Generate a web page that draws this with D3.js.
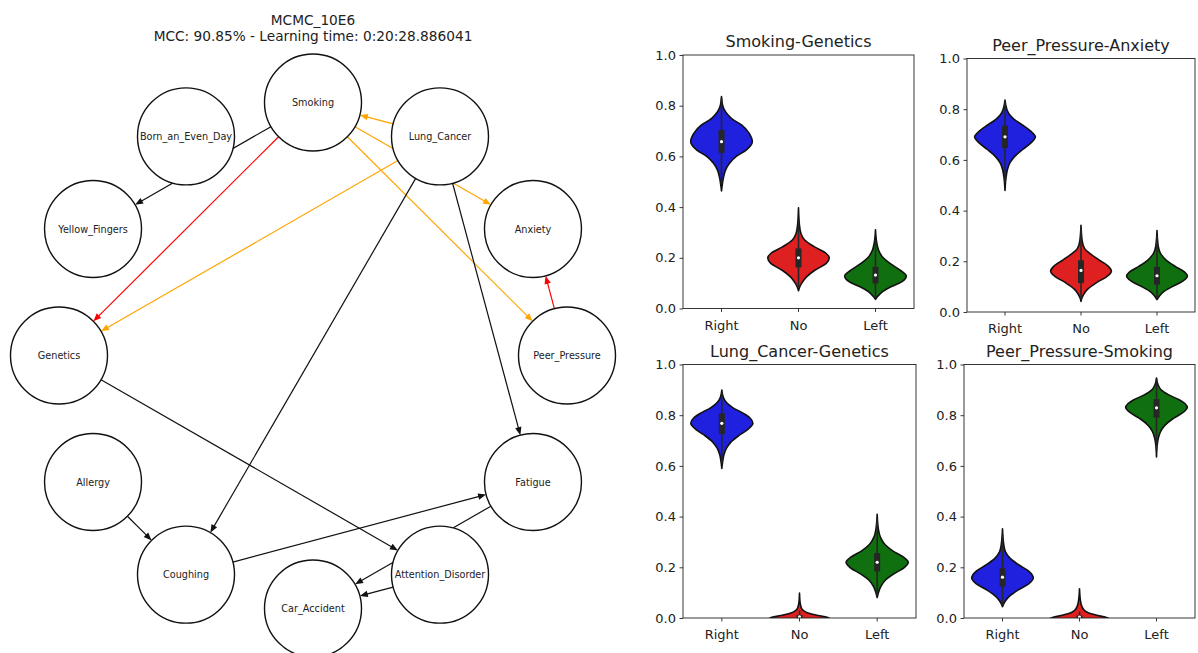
<!DOCTYPE html>
<html lang="en">
<head>
<meta charset="UTF-8">
<title>MCMC_10E6</title>
<style>
  body { margin: 0; background: #fff; }
  svg { display: block; font-family: "DejaVu Sans", sans-serif; }
  .node circle { fill: #fff; stroke: #111; stroke-width: 1.4px; }
  .node text { font-size: 9.7px; fill: #222; text-anchor: middle; dominant-baseline: central; }
  .edge { fill: none; stroke-width: 1.2px; }
  .axis path, .axis line { stroke: #222; stroke-width: 0.9px; }
  .axis text { font-size: 13px; fill: #222; font-family: "DejaVu Sans", sans-serif; }
  .frame { fill: none; stroke: #222; stroke-width: 0.9px; }
  .ptitle { font-size: 16px; fill: #222; text-anchor: middle; }
  .gtitle { font-size: 13.7px; fill: #222; text-anchor: middle; }
</style>
</head>
<body>
<svg id="chart" width="1198" height="653"></svg>
<script src="https://cdnjs.cloudflare.com/ajax/libs/d3/7.8.5/d3.min.js"></script>
<script>
// ---- graph data ----
// nodes in circular-layout order (counter-clockwise, starting at 3 o'clock)
const nodeNames = ["Peer_Pressure", "Anxiety", "Lung_Cancer", "Smoking", "Born_an_Even_Day",
  "Yellow_Fingers", "Genetics", "Allergy", "Coughing", "Car_Accident", "Attention_Disorder", "Fatigue"];

// [source, target, colour]
const edges = [
  ["Smoking", "Yellow_Fingers", "black"],
  ["Smoking", "Genetics", "red"],
  ["Lung_Cancer", "Smoking", "orange"],
  ["Smoking", "Anxiety", "orange"],
  ["Smoking", "Peer_Pressure", "orange"],
  ["Lung_Cancer", "Genetics", "orange"],
  ["Peer_Pressure", "Anxiety", "red"],
  ["Lung_Cancer", "Coughing", "black"],
  ["Lung_Cancer", "Fatigue", "black"],
  ["Genetics", "Attention_Disorder", "black"],
  ["Allergy", "Coughing", "black"],
  ["Coughing", "Fatigue", "black"],
  ["Attention_Disorder", "Car_Accident", "black"],
  ["Fatigue", "Car_Accident", "black"]
];

const graphTitle = ["MCMC_10E6", "MCC: 90.85% - Learning time: 0:20:28.886041"];

// ---- violin data ----
const categories = ["Right", "No", "Left"];
const violinColors = ["#2020df", "#df2020", "#107010"];
const panelTitles = ["Smoking-Genetics", "Peer_Pressure-Anxiety", "Lung_Cancer-Genetics", "Peer_Pressure-Smoking"];

// density outlines: [value, relative half width]
const sgRight = [[0.836,0],[0.80,0.04],[0.783,0.1],[0.765,0.2],[0.75,0.32],[0.724,0.65],[0.691,0.9],[0.658,1],[0.625,0.8],[0.6,0.48],[0.573,0.26],[0.546,0.13],[0.52,0.07],[0.493,0.03],[0.464,0]];
const sgNo = [[0.397,0],[0.33,0.03],[0.296,0.08],[0.27,0.2],[0.243,0.52],[0.217,0.9],[0.2,1],[0.178,0.9],[0.151,0.53],[0.125,0.26],[0.099,0.1],[0.085,0.04],[0.07,0]];
const sgLeft = [[0.31,0],[0.26,0.04],[0.23,0.1],[0.204,0.22],[0.178,0.47],[0.151,0.8],[0.128,1],[0.105,0.85],[0.086,0.5],[0.066,0.22],[0.046,0.06],[0.036,0]];

const paRight = [[0.836,0],[0.80,0.06],[0.78,0.14],[0.76,0.3],[0.733,0.63],[0.707,0.9],[0.691,1],[0.667,0.85],[0.641,0.58],[0.614,0.32],[0.588,0.16],[0.562,0.08],[0.536,0.04],[0.479,0]];
const paNo = [[0.342,0],[0.28,0.04],[0.25,0.12],[0.23,0.3],[0.205,0.6],[0.18,0.9],[0.161,1],[0.14,0.85],[0.115,0.5],[0.09,0.22],[0.07,0.09],[0.055,0.03],[0.042,0]];
const paLeft = [[0.321,0],[0.26,0.04],[0.23,0.12],[0.205,0.3],[0.18,0.6],[0.158,0.9],[0.141,1],[0.122,0.85],[0.1,0.5],[0.08,0.22],[0.063,0.08],[0.049,0]];

const lgRight = [[0.899,0],[0.87,0.05],[0.85,0.15],[0.83,0.35],[0.81,0.65],[0.79,0.9],[0.768,1],[0.745,0.85],[0.72,0.55],[0.695,0.3],[0.67,0.15],[0.645,0.07],[0.62,0.03],[0.59,0]];
const lgNo = [[0.098,0],[0.06,0.02],[0.04,0.06],[0.03,0.12],[0.02,0.27],[0.01,0.6],[0.0,0.95],[-0.01,1],[-0.03,0.6]];
const lgLeft = [[0.409,0],[0.35,0.04],[0.32,0.1],[0.29,0.25],[0.265,0.5],[0.24,0.85],[0.22,1],[0.2,0.88],[0.175,0.55],[0.15,0.27],[0.125,0.12],[0.1,0.04],[0.081,0]];

const psRight = [[0.352,0],[0.29,0.04],[0.26,0.1],[0.235,0.25],[0.21,0.52],[0.185,0.85],[0.158,1],[0.135,0.85],[0.11,0.5],[0.085,0.22],[0.065,0.08],[0.045,0]];
const psNo = [[0.115,0],[0.07,0.03],[0.045,0.08],[0.03,0.16],[0.02,0.3],[0.01,0.6],[0.0,0.92],[-0.01,1],[-0.03,0.6]];
const psLeft = [[0.947,0],[0.92,0.05],[0.9,0.15],[0.88,0.4],[0.86,0.75],[0.845,0.93],[0.83,1],[0.81,0.85],[0.785,0.52],[0.76,0.27],[0.735,0.13],[0.71,0.06],[0.68,0.02],[0.635,0]];

// inner box: [whisker low, q1, median, q3, whisker high]
const sgBox = [[0.49,0.614,0.658,0.704,0.83],[0.085,0.162,0.2,0.237,0.35],[0.045,0.099,0.132,0.164,0.27]];
const paBox = [[0.51,0.647,0.691,0.735,0.83],[0.05,0.114,0.164,0.204,0.33],[0.055,0.108,0.143,0.178,0.30]];
const lgBox = [[0.61,0.726,0.768,0.807,0.89],[0,0,0.005,0.012,0.03],[0.09,0.184,0.22,0.256,0.39]];
const psBox = [[0.05,0.125,0.161,0.196,0.33],[0,0,0.004,0.01,0.025],[0.66,0.79,0.829,0.863,0.94]];

const panelProfiles = [[sgRight, sgNo, sgLeft], [paRight, paNo, paLeft], [lgRight, lgNo, lgLeft], [psRight, psNo, psLeft]];
const panelBoxes = [sgBox, paBox, lgBox, psBox];
const yTicks = [0, 0.2, 0.4, 0.6, 0.8, 1.0];

// ---- layout ----
const svg = d3.select("#chart");
svg.append("rect").attr("width", 1198).attr("height", 653).attr("fill", "#fff");

const nodeR = 48.5;
const gx = d3.scaleLinear().domain([-1, 1]).range([59, 567]);
const gy = d3.scaleLinear().domain([-1, 1]).range([608.5, 102.5]);

const pos = {};
nodeNames.forEach((n, i) => {
  const a = i * 2 * Math.PI / nodeNames.length;
  pos[n] = {x: gx(Math.cos(a)), y: gy(Math.sin(a))};
});

const gtitle = svg.append("g");
gtitle.selectAll("text").data(graphTitle).enter().append("text")
  .attr("class", "gtitle")
  .attr("x", 313)
  .attr("y", (d, i) => 24.5 + i * 16)
  .text(d => d);

const colorMap = {black: "#111", red: "#ff0000", orange: "#ffa500"};
const edgeG = svg.append("g");
const headL = 8, headW = 3.2;
edges.forEach(([s, t, c]) => {
  const p = pos[s], q = pos[t];
  const dx = q.x - p.x, dy = q.y - p.y, len = Math.hypot(dx, dy);
  const ux = dx / len, uy = dy / len;
  const sx = p.x + ux * nodeR, sy = p.y + uy * nodeR;
  const tx = q.x - ux * nodeR, ty = q.y - uy * nodeR;
  const bx = tx - ux * headL, by = ty - uy * headL;
  edgeG.append("line").attr("class", "edge")
    .attr("x1", sx).attr("y1", sy).attr("x2", bx + ux).attr("y2", by + uy)
    .attr("stroke", colorMap[c]);
  edgeG.append("path")
    .attr("d", `M${tx},${ty}L${bx - uy * headW},${by + ux * headW}L${bx + uy * headW},${by - ux * headW}Z`)
    .attr("fill", colorMap[c]);
});

const nodeG = svg.selectAll("g.node").data(nodeNames).enter().append("g")
  .attr("class", "node")
  .attr("transform", d => `translate(${pos[d].x},${pos[d].y})`);
nodeG.append("circle").attr("r", nodeR);
nodeG.append("text").text(d => d);

// ---- violin panels ----
const boxes = [
  {x0: 683, x1: 914, y0: 55, y1: 308.5},
  {x0: 967, x1: 1195, y0: 58.5, y1: 312},
  {x0: 683, x1: 916, y0: 364.5, y1: 618},
  {x0: 964, x1: 1195, y0: 364.5, y1: 618}
];

boxes.forEach((b, pi) => {
  const g = svg.append("g");
  const x = d3.scaleBand().domain(categories).range([b.x0, b.x1]).padding(0);
  const y = d3.scaleLinear().domain([0, 1]).range([b.y1, b.y0]);
  const hw = x.bandwidth() * 0.4;

  g.append("clipPath").attr("id", "clip" + pi)
    .append("rect").attr("x", b.x0).attr("y", b.y0).attr("width", b.x1 - b.x0).attr("height", b.y1 - b.y0);

  const plot = g.append("g").attr("clip-path", `url(#clip${pi})`);
  categories.forEach((cat, ci) => {
    const cx = x(cat) + x.bandwidth() / 2;
    const area = d3.area()
      .y(d => y(d[0]))
      .x0(d => cx - hw * d[1])
      .x1(d => cx + hw * d[1])
      .curve(d3.curveMonotoneY);
    plot.append("path")
      .attr("d", area(panelProfiles[pi][ci]))
      .attr("fill", violinColors[ci])
      .attr("stroke", "#111")
      .attr("stroke-width", 1.6)
      .attr("stroke-linejoin", "round");
    const [lo, q1, med, q3, hi] = panelBoxes[pi][ci];
    plot.append("line")
      .attr("x1", cx).attr("x2", cx).attr("y1", y(lo)).attr("y2", y(hi))
      .attr("stroke", "#262626").attr("stroke-width", 1.6);
    plot.append("rect")
      .attr("x", cx - 3).attr("width", 6)
      .attr("y", y(q3)).attr("height", Math.max(y(q1) - y(q3), 1))
      .attr("fill", "#262626");
    plot.append("circle")
      .attr("cx", cx).attr("cy", y(med)).attr("r", 1.6)
      .attr("fill", "#fff");
  });

  g.append("rect").attr("class", "frame")
    .attr("x", b.x0).attr("y", b.y0).attr("width", b.x1 - b.x0).attr("height", b.y1 - b.y0);

  g.append("g").attr("class", "axis")
    .attr("transform", `translate(${b.x0},0)`)
    .call(d3.axisLeft(y).tickValues(yTicks).tickFormat(d3.format(".1f")).tickSize(3.5).tickSizeOuter(0).tickPadding(3.5))
    .call(a => a.select(".domain").remove());

  g.append("g").attr("class", "axis")
    .attr("transform", `translate(0,${b.y1})`)
    .call(d3.axisBottom(x).tickSize(3.5).tickSizeOuter(0).tickPadding(8.5))
    .call(a => a.select(".domain").remove());

  g.append("text").attr("class", "ptitle")
    .attr("x", (b.x0 + b.x1) / 2).attr("y", b.y0 - 8)
    .text(panelTitles[pi]);
});
</script>
</body>
</html>
